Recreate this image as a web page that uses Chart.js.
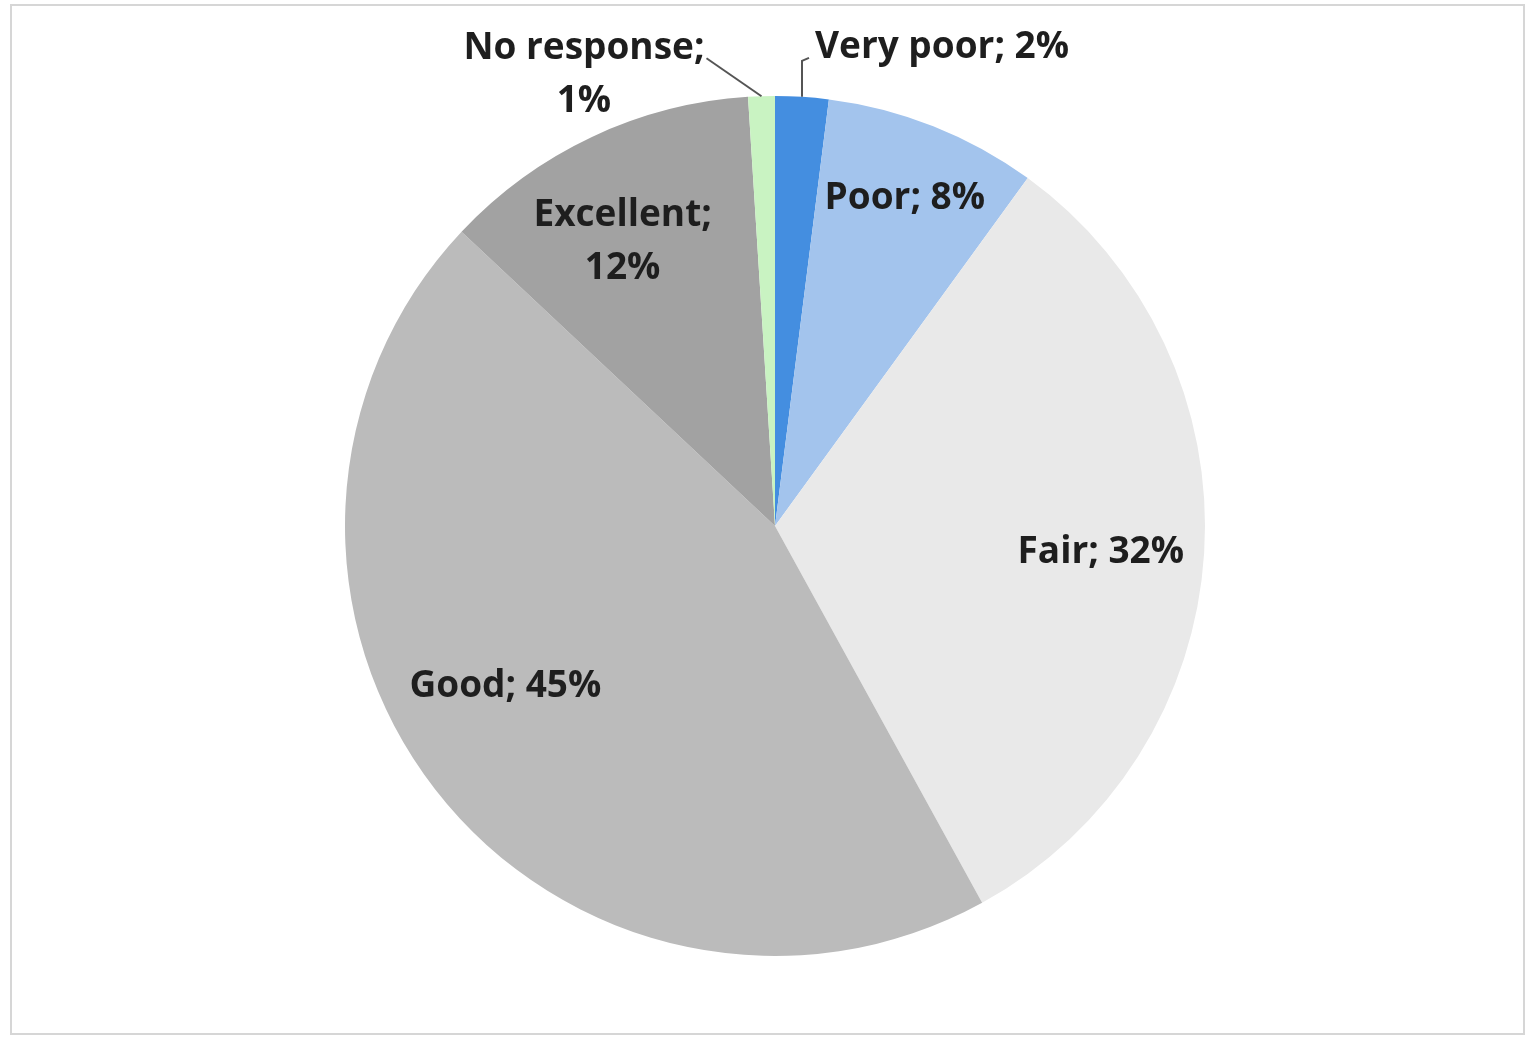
<!DOCTYPE html>
<html>
<head>
<meta charset="utf-8">
<script src="https://cdn.jsdelivr.net/npm/chart.js@4.4.1/dist/chart.umd.min.js"></script>
<style>
    html, body { margin: 0; padding: 0; background: #fff; }
    #wrap { position: relative; width: 1530px; height: 1041px; }
    #frame { position: absolute; left: 10px; top: 4px; width: 1515px; height: 1031px;
             border: 2px solid #d6d6d6; box-sizing: border-box; pointer-events: none; }
</style>
</head>
<body>
<div id="wrap">
    <canvas id="pie" width="1530" height="1041"></canvas>
    <div id="frame"></div>
</div>
<script>
// Data
const categories = ["Very poor", "Poor", "Fair", "Good", "Excellent", "No response"];
const shares = [2, 8, 32, 45, 12, 1];
const slice_colours = ["#448ee0", "#a3c4ed", "#e9e9e9", "#bbbbbb", "#a2a2a2", "#c9f3c2"];

// Label placement: fraction of radius, angle nudge (deg), wrap onto two lines, inside/outside
const label_layout = [
    { f: 1, da: 0, wrap: false, outside: "right" },
    { f: 0.82, da: 0, wrap: false },
    { f: 0.76, da: 1, wrap: false },
    { f: 0.73, da: 7, wrap: false },
    { f: 0.75, da: -3, wrap: true },
    { f: 1, da: 0, wrap: true, outside: "left" }
];

const label_font = "bold 37px 'Open Sans', Lato, sans-serif";

const pieLabels = {
    id: "pieLabels",
    afterDatasetsDraw(chart) {
        const ctx = chart.ctx;
        const arcs = chart.getDatasetMeta(0).data;
        ctx.save();
        ctx.font = label_font;
        ctx.fillStyle = "#1e1e1e";
        ctx.textBaseline = "middle";
        arcs.forEach((arc, i) => {
            const p = arc.getProps(["x", "y", "startAngle", "endAngle", "outerRadius"], true);
            const lay = label_layout[i];
            const mid = (p.startAngle + p.endAngle) / 2 + lay.da * Math.PI / 180;
            const lines = lay.wrap
                ? [categories[i] + ";", shares[i] + "%"]
                : [categories[i] + "; " + shares[i] + "%"];
            const lh = 53;

            if (!lay.outside) {
                const lx = p.x + Math.cos(mid) * p.outerRadius * lay.f;
                const ly = p.y + Math.sin(mid) * p.outerRadius * lay.f;
                ctx.textAlign = "center";
                lines.forEach((t, k) => {
                    ctx.fillText(t, lx, ly + (k - (lines.length - 1) / 2) * lh);
                });
                return;
            }

            // outside labels with leader lines
            const ex = p.x + Math.cos(mid) * p.outerRadius;
            const ey = p.y + Math.sin(mid) * p.outerRadius;
            ctx.strokeStyle = "#555";
            ctx.lineWidth = 2;
            ctx.beginPath();
            if (lay.outside === "right") {
                ctx.moveTo(ex, ey);
                ctx.lineTo(ex, ey - 36);
                ctx.lineTo(ex + 7, ey - 39);
                ctx.stroke();
                ctx.textAlign = "left";
                ctx.fillText(lines[0], ex + 13, ey - 49);
            } else {
                const tx = ex - 55, ty = ey - 38;
                ctx.moveTo(ex, ey);
                ctx.lineTo(tx, ty);
                ctx.stroke();
                const w = Math.max(...lines.map(t => ctx.measureText(t).width));
                const cx = tx - 2 - w / 2;
                ctx.textAlign = "center";
                ctx.fillText(lines[0], cx, ty - 10);
                ctx.fillText(lines[1], cx, ty - 10 + lh);
            }
        });
        ctx.restore();
    }
};

const ctx = document.getElementById("pie").getContext("2d");
new Chart(ctx, {
    type: "pie",
    data: {
        labels: categories,
        datasets: [{
            data: shares,
            backgroundColor: slice_colours,
            borderWidth: 0
        }]
    },
    options: {
        responsive: false,
        animation: false,
        layout: {
            padding: { top: 96, bottom: 85, left: 345, right: 325 }
        },
        plugins: {
            legend: { display: false },
            tooltip: { enabled: false }
        }
    },
    plugins: [pieLabels]
});
</script>
</body>
</html>
